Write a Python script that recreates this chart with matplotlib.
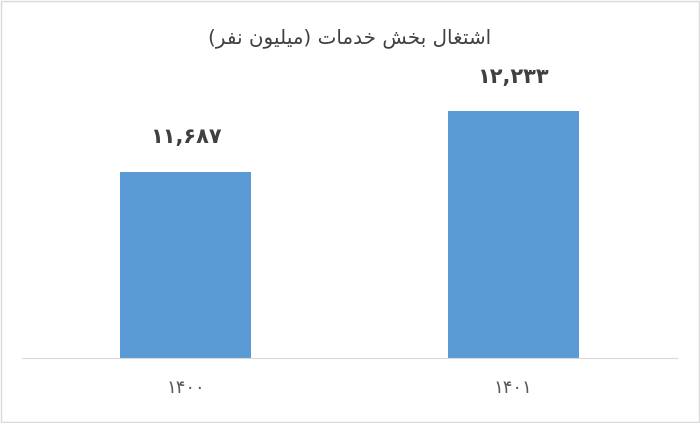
import matplotlib
matplotlib.use('Agg')
import matplotlib.pyplot as plt
from matplotlib.patches import Rectangle

# Data
years = ['۱۴۰۰', '۱۴۰۱']
values = [11687, 12233]
title = 'اشتغال بخش خدمات (میلیون نفر)'

# Minimal Persian shaping (matplotlib has no bidi / joining support)
# forms: isolated, final, initial, medial
FORMS = {
    'ا': ('\uFE8D', '\uFE8E', None, None),
    'ب': ('\uFE8F', '\uFE90', '\uFE91', '\uFE92'),
    'ت': ('\uFE95', '\uFE96', '\uFE97', '\uFE98'),
    'خ': ('\uFEA5', '\uFEA6', '\uFEA7', '\uFEA8'),
    'د': ('\uFEA9', '\uFEAA', None, None),
    'ر': ('\uFEAD', '\uFEAE', None, None),
    'ش': ('\uFEB5', '\uFEB6', '\uFEB7', '\uFEB8'),
    'غ': ('\uFECD', '\uFECE', '\uFECF', '\uFED0'),
    'ف': ('\uFED1', '\uFED2', '\uFED3', '\uFED4'),
    'ل': ('\uFEDD', '\uFEDE', '\uFEDF', '\uFEE0'),
    'م': ('\uFEE1', '\uFEE2', '\uFEE3', '\uFEE4'),
    'ن': ('\uFEE5', '\uFEE6', '\uFEE7', '\uFEE8'),
    'و': ('\uFEED', '\uFEEE', None, None),
    'ی': ('\uFEEF', '\uFEF0', '\uFEF3', '\uFEF4'),
}


def shape(text):
    out = []
    for i, ch in enumerate(text):
        if ch not in FORMS:
            out.append(ch)
            continue
        prev = text[i - 1] if i > 0 else ''
        nxt = text[i + 1] if i + 1 < len(text) else ''
        jp = prev in FORMS and FORMS[prev][2] is not None
        jn = FORMS[ch][2] is not None and nxt in FORMS
        iso, fin, ini, med = FORMS[ch]
        if jp and jn:
            out.append(med)
        elif jp:
            out.append(fin)
        elif jn:
            out.append(ini)
        else:
            out.append(iso)
    vis = ''.join(reversed(out))
    return vis.translate(str.maketrans('()', ')('))


def fa_num(n):
    return f'{n:,}'.translate(str.maketrans('0123456789', '۰۱۲۳۴۵۶۷۸۹'))


fig = plt.figure(figsize=(7, 4.23), dpi=100)
fig.patches.append(Rectangle((0.002, 0.002), 0.996, 0.996, transform=fig.transFigure,
                             fill=False, edgecolor='#d9d9d9', linewidth=1))

ax = fig.add_axes([22 / 700, 65 / 423, 655 / 700, 276 / 423])
x = range(len(years))
bars = ax.bar(x, values, width=0.4, color='#5b9bd5', zorder=2)
ax.set_xlim(-0.5, len(years) - 0.5)
ax.set_ylim(10000, 12500)

# value labels above bars
for b, v in zip(bars, values):
    ax.annotate(fa_num(v), (b.get_x() + b.get_width() / 2, v),
                xytext=(0, 25), textcoords='offset points', ha='center', va='center',
                fontsize=15, fontweight='bold', color='#404040', family='DejaVu Sans')

ax.set_xticks(list(x))
ax.set_xticklabels(years, fontsize=13, color='#595959')
ax.tick_params(axis='x', length=0, pad=15)
ax.set_yticks([])
for s in ['top', 'right', 'left']:
    ax.spines[s].set_visible(False)
ax.spines['bottom'].set_color('#d9d9d9')

fig.text(0.5, 1 - 38 / 423, shape(title), ha='center', va='center',
         fontsize=14.3, color='#404040')

fig.savefig('out.png', dpi=100)
